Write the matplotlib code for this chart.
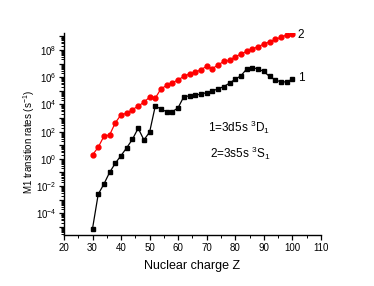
import numpy as np
import matplotlib
matplotlib.use("Agg")
import matplotlib.pyplot as plt
from matplotlib.ticker import FixedLocator, FuncFormatter, LogLocator, MultipleLocator, NullFormatter

plt.rcParams['font.family'] = ['Liberation Sans', 'DejaVu Sans']
plt.rcParams['mathtext.fontset'] = 'custom'
plt.rcParams['mathtext.rm'] = 'Liberation Sans'
plt.rcParams['mathtext.it'] = 'Liberation Sans:italic'
plt.rcParams['mathtext.bf'] = 'Liberation Sans:bold'

# nuclear charge Z
z = [30, 32, 34, 36, 38, 40, 42, 44, 46, 48, 50, 52, 54, 56, 58, 60, 62, 64,
     66, 68, 70, 72, 74, 76, 78, 80, 82, 84, 86, 88, 90, 92, 94, 96, 98, 100]

# log10 of M1 rates (s^-1)
log_rate_1 = [-5.13, -2.6, -1.85, -0.99, -0.32, 0.24, 0.82, 1.44, 2.25, 1.39,
              1.96, 3.89, 3.65, 3.46, 3.46, 3.76, 4.57, 4.62, 4.68, 4.75, 4.87,
              4.99, 5.14, 5.31, 5.56, 5.85, 6.1, 6.6, 6.7, 6.6, 6.42, 6.05,
              5.8, 5.65, 5.65, 5.85]
log_rate_2 = [0.29, 0.85, 1.66, 1.76, 2.65, 3.24, 3.35, 3.62, 3.87, 4.16, 4.53,
              4.46, 5.15, 5.39, 5.59, 5.81, 6.05, 6.25, 6.37, 6.54, 6.81, 6.62,
              6.91, 7.15, 7.23, 7.5, 7.7, 7.9, 8.07, 8.24, 8.43, 8.6, 8.77, 8.93,
              9.1, 9.18]

rate_1 = 10.0 ** np.array(log_rate_1)
rate_2 = 10.0 ** np.array(log_rate_2)

fig = plt.figure(figsize=(3.74, 2.86), dpi=100)
ax = fig.add_axes([0.171, 0.178, 0.687, 0.707])

ax.semilogy(z, rate_1, color='black', marker='s', markersize=3.5, lw=0.9)
ax.semilogy(z, rate_2, color='red', marker='o', markersize=3.5, lw=0.9)

ax.set_xlim(20, 110)
ax.set_ylim(10 ** -5.6, 10 ** 9.25)

ax.xaxis.set_major_locator(MultipleLocator(10))
ax.xaxis.set_minor_locator(MultipleLocator(5))

decades = np.arange(-5, 10)
ax.yaxis.set_major_locator(FixedLocator(10.0 ** decades))
ax.yaxis.set_major_formatter(FuncFormatter(
    lambda v, p: r'$10^{%d}$' % round(np.log10(v)) if round(np.log10(v)) % 2 == 0 and -4 <= round(np.log10(v)) <= 8 else ''))
ax.yaxis.set_minor_locator(LogLocator(base=10, subs=np.arange(2, 10), numticks=40))
ax.yaxis.set_minor_formatter(NullFormatter())

ax.spines['top'].set_visible(False)
ax.spines['right'].set_visible(False)
for s in ['left', 'bottom']:
    ax.spines[s].set_linewidth(1.0)

ax.tick_params(which='major', direction='out', length=3.5, width=0.9, labelsize=7, pad=2)
ax.tick_params(which='minor', direction='out', length=2, width=0.7)

ax.set_xlabel('Nuclear charge Z', fontsize=9, labelpad=5)
ax.set_ylabel('M1 transition rates (s$^{-1}$)', fontsize=7)
ax.yaxis.set_label_coords(-0.105, 0.46)

ax.text(101.9, 10 ** 9.1, '2', fontsize=8.5, va='center', ha='left')
ax.text(101.9, 10 ** 5.94, '1', fontsize=8.5, va='center', ha='left')
ax.text(70.4, 10 ** 2.3, '1=3d5s $^{3}$D$_{1}$', fontsize=8.5, va='center', ha='left')
ax.text(71.1, 10 ** 0.39, '2=3s5s $^{3}$S$_{1}$', fontsize=8.5, va='center', ha='left')

fig.savefig('out.png', dpi=100)
